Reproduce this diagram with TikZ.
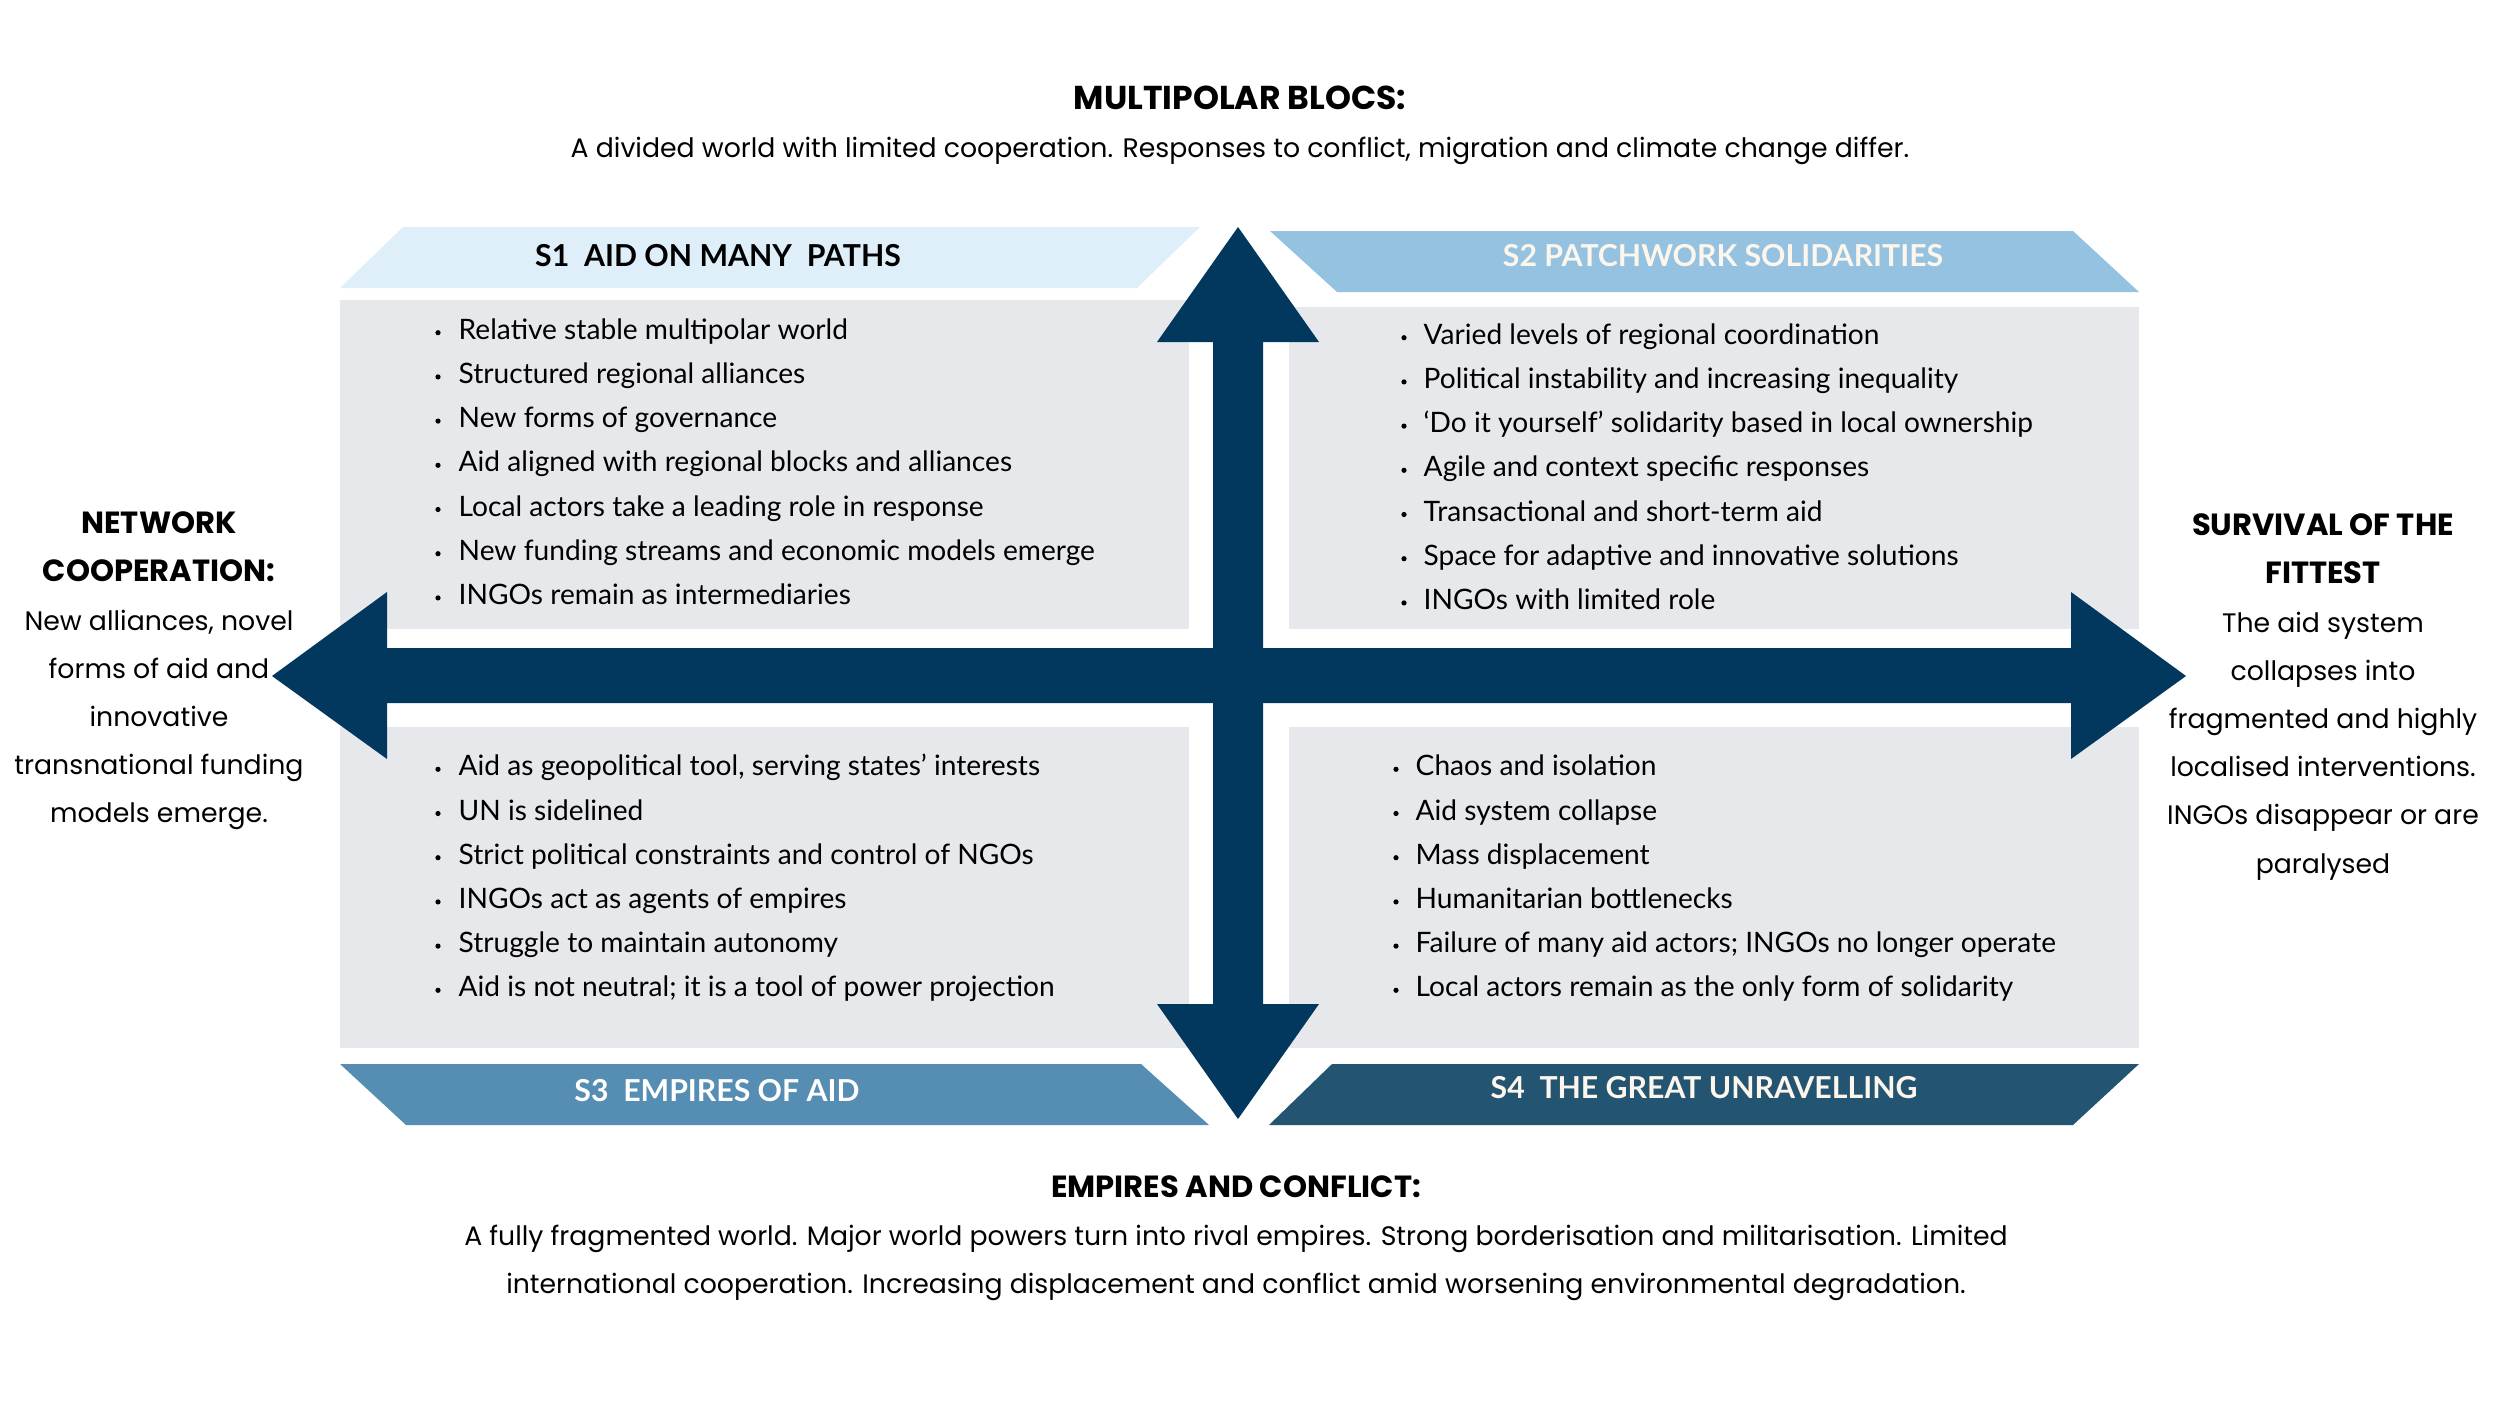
\documentclass[tikz,border=0pt]{standalone}
\usepackage{fontspec}
\setmainfont{Lato}
\newfontfamily\headfont{Poppins}
\usetikzlibrary{positioning}
\definecolor{crossblue}{RGB}{2,56,93}
\definecolor{sonefill}{RGB}{223,239,249}
\definecolor{stwofill}{RGB}{148,194,224}
\definecolor{sthreefill}{RGB}{86,141,178}
\definecolor{sfourfill}{RGB}{35,85,114}
\definecolor{boxgrey}{RGB}{231,232,236}
\definecolor{cream}{RGB}{253,246,236}
\tikzset{
  bulletline/.style={anchor=base west,inner sep=0pt,font=\fontsize{8.0}{9}\selectfont},
  bannertext/.style={inner sep=0pt,font=\fontsize{8.6}{10}\selectfont\bfseries},
  sidetext/.style={align=center,inner sep=0pt,font=\headfont\fontsize{7.6}{13.7}\selectfont},
}
\newcommand{\axishead}[2][8.7]{{\fontsize{#1}{13.7}\selectfont\bfseries #2}}

\begin{document}
\begin{tikzpicture}[x=0.01cm,y=-0.01cm]
\useasboundingbox (0,0) rectangle (2500,1406);
\fill[boxgrey] (340,300) rectangle (1189,629);
\fill[boxgrey] (1289,307) rectangle (2139,629);
\fill[boxgrey] (340,727) rectangle (1189,1048);
\fill[boxgrey] (1289,727) rectangle (2139,1048);
\fill[sonefill] (340,288) -- (403,227) -- (1200,227) -- (1137,288) -- cycle;
\fill[stwofill] (1270,231) -- (2073,231) -- (2139,292) -- (1337,292) -- cycle;
\fill[sthreefill] (340,1064) -- (1141,1064) -- (1209,1125) -- (406,1125) -- cycle;
\fill[sfourfill] (1332,1064) -- (2139,1064) -- (2073,1125) -- (1269,1125) -- cycle;
\node[bannertext] (s1title) at (718,256) {S1\ \ AID ON MANY\ \ PATHS};
\node[bannertext,text=cream] (s2title) at (1723,256) {S2 PATCHWORK SOLIDARITIES};
\node[bannertext,text=white] (s3title) at (717,1091) {S3\ \ EMPIRES OF AID};
\node[bannertext,text=cream] (s4title) at (1704,1088) {S4\ \ THE GREAT UNRAVELLING};
\fill[crossblue] (1238,227) -- (1319,342) -- (1263,342) -- (1263,1004) -- (1319,1004)
  -- (1238,1119) -- (1157,1004) -- (1213,1004) -- (1213,342) -- (1157,342) -- cycle;
\fill[crossblue] (272,676) -- (387,592) -- (387,648) -- (2071,648) -- (2071,592)
  -- (2186,676) -- (2071,759) -- (2071,703) -- (387,703) -- (387,759) -- cycle;
\foreach \t [count=\i, evaluate=\i as \y using 288.5+44.2*\i] in {Relative stable multipolar world,
  Structured regional alliances, New forms of governance, Aid aligned with regional blocks and alliances,
  Local actors take a leading role in response, New funding streams and economic models emerge,
  INGOs remain as intermediaries}{
  \fill (438,\y) circle (2.6);
  \node[bulletline] (s1-\i) at (458,\y+6.5) {\t};
}
\foreach \t [count=\i, evaluate=\i as \y using 293.5+44.2*\i] in {Varied levels of regional coordination,
  Political instability and increasing inequality, ‘Do it yourself’ solidarity based in local ownership,
  Agile and context specific responses, Transactional and short-term aid,
  Space for adaptive and innovative solutions, INGOs with limited role}{
  \fill (1404,\y) circle (2.6);
  \node[bulletline] (s2-\i) at (1423,\y+6.5) {\t};
}
\foreach \t [count=\i, evaluate=\i as \y using 725.1+44.2*\i] in {{Aid as geopolitical tool, serving states’ interests},
  UN is sidelined, Strict political constraints and control of NGOs, INGOs act as agents of empires,
  Struggle to maintain autonomy, Aid is not neutral; it is a tool of power projection}{
  \fill (438,\y) circle (2.6);
  \node[bulletline] (s3-\i) at (458,\y+6.5) {\t};
}
\foreach \t [count=\i, evaluate=\i as \y using 725.1+44.2*\i] in {Chaos and isolation, Aid system collapse,
  Mass displacement, Humanitarian bottlenecks, Failure of many aid actors; INGOs no longer operate,
  Local actors remain as the only form of solidarity}{
  \fill (1396,\y) circle (2.6);
  \node[bulletline] (s4-\i) at (1415,\y+6.5) {\t};
}
\node[sidetext] (multipolar) at (1240,125) {\axishead[9.4]{MULTIPOLAR BLOCS:}\\
  A divided world with limited cooperation. Responses to conflict, migration and climate change differ.};
\node[sidetext] (empires) at (1236,1238) {\axishead{EMPIRES AND CONFLICT:}\\
  A fully fragmented world. Major world powers turn into rival empires. Strong borderisation and militarisation. Limited\\
  international cooperation. Increasing displacement and conflict amid worsening environmental degradation.};
\node[sidetext] (network) at (159,671) {\axishead{NETWORK}\\\axishead{COOPERATION:}\\New alliances, novel\\
  forms of aid and\\innovative\\transnational funding\\models emerge.};
\node[sidetext] (survival) at (2323,697) {\axishead{SURVIVAL OF THE}\\\axishead{FITTEST}\\The aid system\\
  collapses into\\fragmented and highly\\localised interventions.\\INGOs disappear or are\\paralysed};
\end{tikzpicture}
\end{document}
